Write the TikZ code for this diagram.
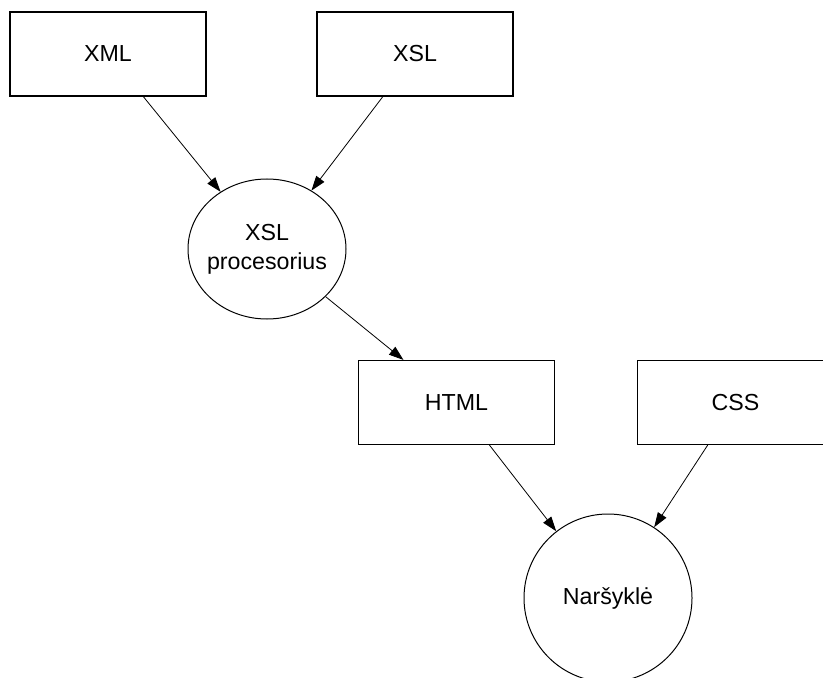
\documentclass[tikz,border=0pt]{standalone}
\usepackage{fontspec}
\setmainfont{Liberation Sans}
\usetikzlibrary{shapes.geometric,arrows.meta,calc}
\begin{document}
\begin{tikzpicture}[x=0.75pt,y=-0.75pt,
  every node/.style={font=\fontsize{17.4}{21.75}\selectfont, inner sep=0pt},
  doc/.style={draw, line width=0.85pt, minimum width=147pt, minimum height=63pt},
  proc/.style={draw, ellipse, line width=0.75pt, inner xsep=-6pt, minimum width=118.5pt, minimum height=105pt, align=center},
  view/.style={draw, circle, line width=0.75pt, minimum size=126pt},
  conn/.style={line width=0.6pt, -{Triangle[length=11pt,width=7.5pt]}}]
\useasboundingbox (0,0) rectangle (823,677);
\clip (0,0) rectangle (823,677);
\node[doc] (xml) at (108,54) {XML};
\node[doc] (xsl) at (415,54) {XSL};
\node[proc] (xslp) at (267,249) {XSL\\procesorius};
\node[doc] (html) at (456.5,402.5) {HTML};
\node[doc] (css) at (735.5,402.5) {CSS};
\node[view] (nar) at (608,598) {Naršyklė};
\draw[conn] ($(xml.south west)!0.679!(xml.south east)$) -- (xslp);
\draw[conn] ($(xsl.south west)!0.337!(xsl.south east)$) -- (xslp);
\draw[conn] (xslp) -- ($(html.north west)!0.231!(html.north east)$);
\draw[conn] ($(html.south west)!0.667!(html.south east)$) -- (nar);
\draw[conn] ($(css.south west)!0.359!(css.south east)$) -- (nar);
\end{tikzpicture}
\end{document}
